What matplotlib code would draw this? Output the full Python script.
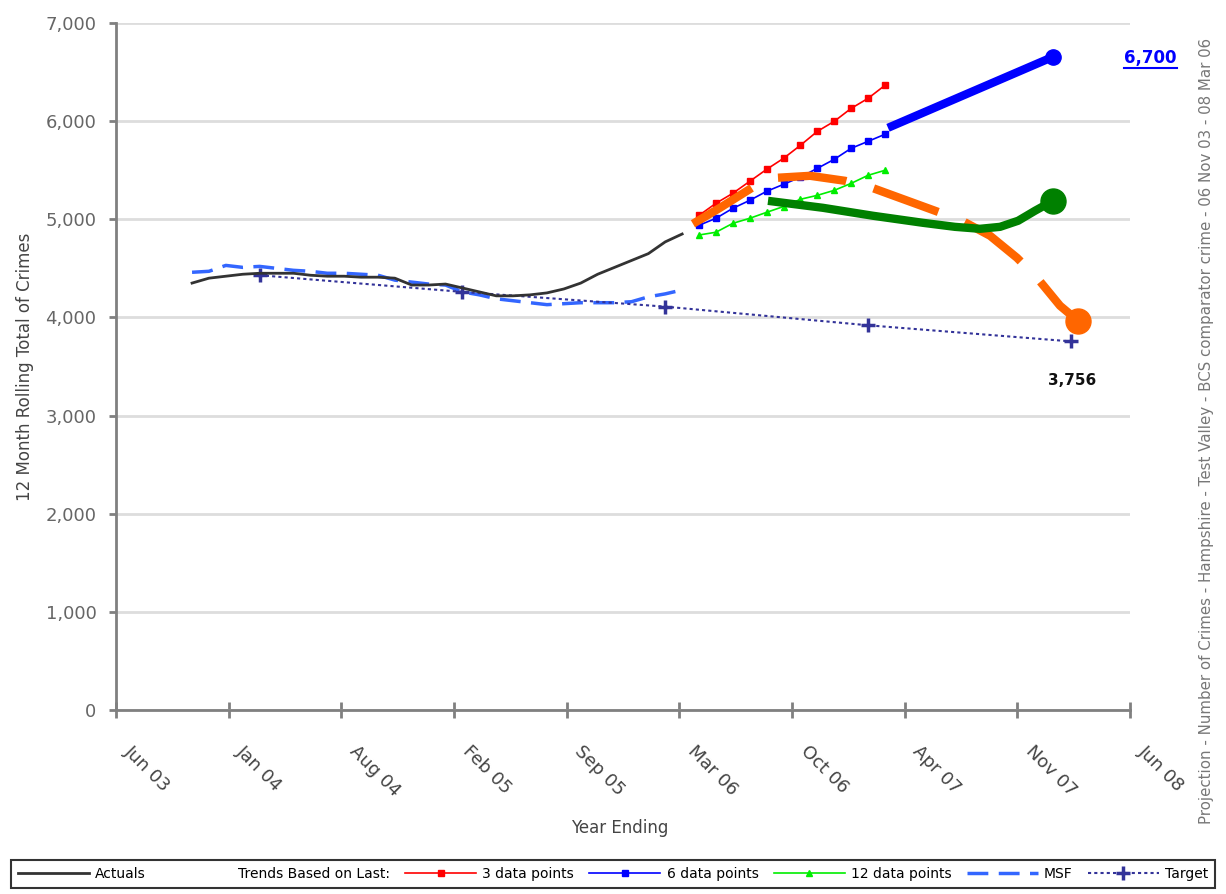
import numpy as np
import matplotlib
matplotlib.use("Agg")
import matplotlib.pyplot as plt
import matplotlib.transforms as mtransforms
from matplotlib.lines import Line2D
from matplotlib.legend_handler import HandlerBase

# ---------------- data ----------------
tick_labels = ["Jun 03", "Jan 04", "Aug 04", "Feb 05", "Sep 05",
               "Mar 06", "Oct 06", "Apr 07", "Nov 07", "Jun 08"]

# months since Jun 03
actual_months = np.arange(4.5, 34.5, 1.0)
actuals = [4350, 4400, 4420, 4440, 4450, 4450, 4450, 4430, 4420, 4420,
           4410, 4410, 4400, 4330, 4330, 4340, 4300, 4260, 4220, 4220,
           4230, 4250, 4290, 4350, 4440, 4510, 4580, 4650, 4770, 4850]
msf = [4460, 4470, 4530, 4510, 4520, 4500, 4480, 4470, 4450, 4450,
       4440, 4430, 4380, 4360, 4340, 4330, 4260, 4230, 4190, 4170,
       4150, 4130, 4140, 4150, 4150, 4150, 4160, 4210, 4240, 4280]

trend_months = np.arange(34.5, 46.5, 1.0)
trend_3 = [5040, 5163, 5265, 5387, 5509, 5621, 5754, 5896, 5998, 6130, 6232, 6365]
trend_6 = [4939, 5010, 5112, 5193, 5285, 5356, 5430, 5519, 5611, 5723, 5794, 5866]
trend_12 = [4840, 4868, 4959, 5010, 5071, 5130, 5204, 5244, 5295, 5366, 5448, 5499]

target_months = [8.5, 20.5, 32.5, 44.5, 56.5]
target = [4430, 4260, 4110, 3920, 3756]

# hand-drawn projection annotations (months, crimes)
proj_blue_m = [45.68, 55.44]
proj_blue_v = [5932, 6655]
proj_green_m = [38.58, 41.83, 44.79, 47.75, 49.64, 51.12, 52.31, 53.38, 54.38, 55.44]
proj_green_v = [5188, 5117, 5036, 4964, 4923, 4903, 4923, 4985, 5087, 5188]
proj_orange_m = [34.14, 35.74, 37.63, 39.11, 41.07, 43.14, 44.73, 48.46, 50.06,
                 51.72, 53.31, 54.50, 55.86, 56.92]
proj_orange_v = [4954, 5117, 5321, 5423, 5443, 5392, 5321, 5087, 4985,
                 4832, 4608, 4404, 4119, 3966]

# ---------------- figure ----------------
W, H = 1226, 894
fig = plt.figure(figsize=(W / 100, H / 100), dpi=100)
ax = fig.add_axes([116 / W, 1 - 710 / H, 1014 / W, (710 - 23) / H])

ax.set_xlim(0, 60)
ax.set_ylim(0, 7000)

# grid
ax.set_yticks(np.arange(0, 7001, 1000))
ax.yaxis.grid(True, color="#dddddd", lw=2)
ax.set_axisbelow(True)
ax.set_yticklabels([f"{v:,}" for v in range(0, 7001, 1000)],
                   fontsize=13, color="#666666")
ax.tick_params(axis="y", direction="out", length=5, width=2, color="#808080", pad=9)

xt = np.arange(10) * 60 / 9
ax.set_xticks(xt)
ax.set_xticklabels([])
ax.tick_params(axis="x", direction="inout", length=12, width=2, color="#808080")
off = mtransforms.ScaledTranslation(8 / 72, -28 / 72, fig.dpi_scale_trans)
for xv, lab in zip(xt, tick_labels):
    ax.text(xv, 0, lab, transform=ax.get_xaxis_transform() + off,
            rotation=-45, rotation_mode="anchor", ha="left", va="center",
            fontsize=13, color="#444444")

for s in ["top", "right"]:
    ax.spines[s].set_visible(False)
for s in ["left", "bottom"]:
    ax.spines[s].set_color("#808080")
    ax.spines[s].set_linewidth(2)

# series
l_act, = ax.plot(actual_months, actuals, color="#333333", lw=2, label="Actuals", zorder=4)
l_3, = ax.plot(trend_months, trend_3, color="#ff0000", lw=1.2, marker="s", ms=4.5,
               mec="#ff0000", label="3 data points", zorder=4)
l_6, = ax.plot(trend_months, trend_6, color="#0000ff", lw=1.2, marker="s", ms=4,
               mec="#0000ff", label="6 data points", zorder=4)
l_12, = ax.plot(trend_months, trend_12, color="#00ee00", lw=1.2, marker="^", ms=5,
                mec="#00ee00", label="12 data points", zorder=4)
l_msf, = ax.plot(actual_months, msf, color="#3366ff", lw=2.5, dashes=(6, 3),
                 label="MSF", zorder=3)
l_tgt, = ax.plot(target_months, target, color="#333399", lw=1.5, dashes=(1.5, 1.5),
                 marker="+", ms=10, mew=2.5, label="Target", zorder=3)

# projection annotations
ax.plot(proj_orange_m, proj_orange_v, color="#ff6600", lw=6, dashes=(8.25, 3.4),
        dash_capstyle="butt", zorder=6)
ax.plot(proj_orange_m[-1], proj_orange_v[-1], "o", color="#ff6600", ms=18, zorder=6)
ax.plot(proj_green_m, proj_green_v, color="#008000", lw=6, solid_capstyle="butt",
        solid_joinstyle="round", zorder=7)
ax.plot(proj_green_m[-1], proj_green_v[-1], "o", color="#008000", ms=18, zorder=7)
ax.plot(proj_blue_m, proj_blue_v, color="#0000ff", lw=6, solid_capstyle="butt", zorder=7)
ax.plot(proj_blue_m[-1], proj_blue_v[-1], "o", color="#0000ff", ms=11, zorder=7)

# value labels
t67 = ax.text(61.2, 6645, "6,700", color="#0000ff", fontsize=12, fontweight="bold",
              ha="center", va="center", clip_on=False)
ax.text(56.6, 3355, "3,756", color="#111111", fontsize=11, fontweight="bold",
        ha="center", va="center")

# axis labels
ax.set_ylabel("12 Month Rolling Total of Crimes", fontsize=12, color="#444444", labelpad=8)
fig.text(620 / W, 1 - 828 / H, "Year Ending", fontsize=12, color="#444444",
         ha="center", va="center")

fig.text(1206 / W, 1 - 431 / H,
         "Projection - Number of Crimes - Hampshire - Test Valley - BCS comparator crime - 06 Nov 03 - 08 Mar 06",
         rotation=90, fontsize=10.8, color="#777777", ha="center", va="center")

# legend
class BlankHandler(HandlerBase):
    def create_artists(self, legend, orig_handle, xdescent, ydescent, width,
                       height, fontsize, trans):
        ln = Line2D([], [], color="none")
        ln.set_transform(trans)
        return [ln]

blank = Line2D([], [], color="none")
handles = [l_act, blank, l_3, l_6, l_12, l_msf, l_tgt]
labels = ["Actuals", "Trends Based on Last:", "3 data points", "6 data points",
          "12 data points", "MSF", "Target"]
leg = fig.legend(handles, labels, loc="center", bbox_to_anchor=(613 / W, 1 - 874 / H),
                 ncol=7, frameon=True, fancybox=False, edgecolor="black",
                 fontsize=10, handlelength=5.1, handletextpad=0.45, columnspacing=1.1,
                 borderpad=0.5, borderaxespad=0.2, handler_map={blank: BlankHandler()})
leg.get_frame().set_linewidth(1.5)

# underline 6,700
fig.canvas.draw()
bb = t67.get_window_extent()
fig.add_artist(Line2D([bb.x0 / W, bb.x1 / W], [(bb.y0 - 1) / H, (bb.y0 - 1) / H],
                      color="#0000ff", lw=1.5))

fig.savefig("out.png", dpi=100)
